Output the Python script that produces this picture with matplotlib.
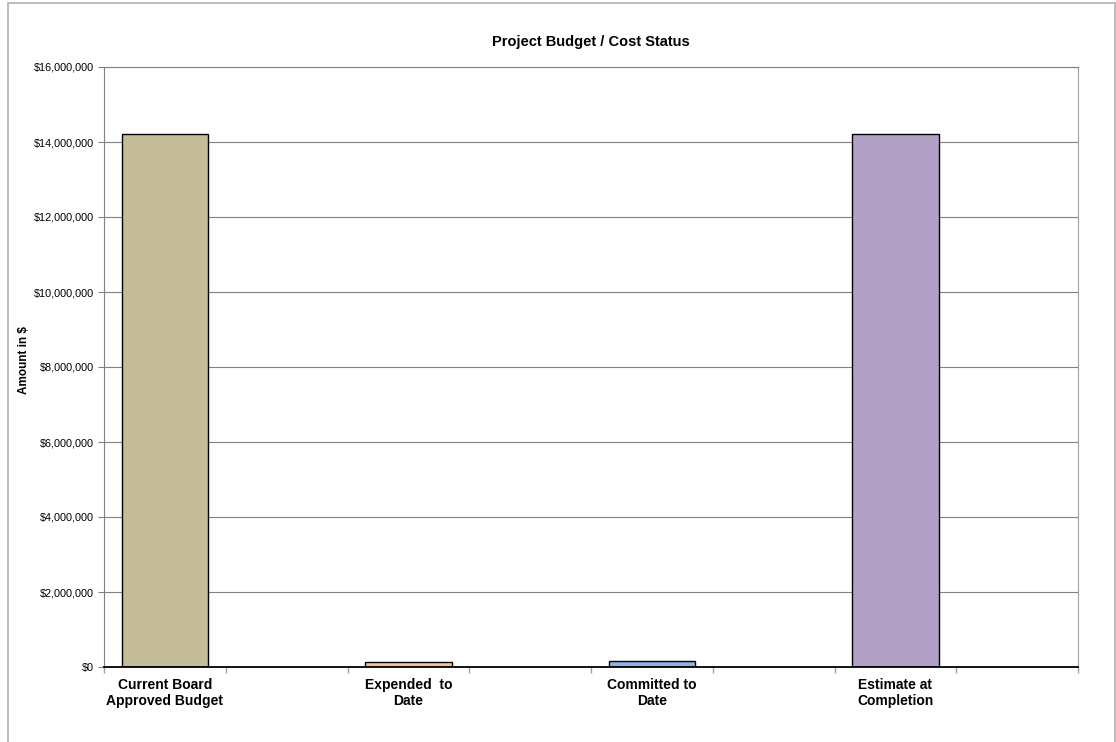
import matplotlib.pyplot as plt
from matplotlib.patches import Rectangle
from matplotlib.ticker import FuncFormatter
import numpy as np

# chart data
categories = ['Current Board\nApproved Budget', 'Expended  to\nDate',
              'Committed to\nDate', 'Estimate at\nCompletion']
amounts = [14210000, 140000, 165000, 14210000]
colors = ['#C4BD97', '#FAC090', '#8DB3E2', '#B2A1C7']
slot_index = [0, 2, 4, 6]   # bars sit in every other category slot
n_slots = 8

plt.rcParams['font.family'] = ['Liberation Sans', 'DejaVu Sans']

fig = plt.figure(figsize=(11.16, 7.42), dpi=100)
ax = fig.add_axes([104 / 1116, 75 / 742, 974 / 1116, 600 / 742])

# outer chart border
fig.patches.append(Rectangle((8 / 1116, -0.05), 1107 / 1116, 1.05 - 3 / 742,
                             transform=fig.transFigure, fill=False,
                             edgecolor='#b0b0b0', linewidth=1.2))

ax.bar(slot_index, amounts, width=0.71, color=colors,
       edgecolor='black', linewidth=1.0, zorder=3)

ax.set_xlim(-0.5, n_slots - 0.5)
ax.set_ylim(0, 16000000)
ax.set_yticks(np.arange(0, 16000001, 2000000))
ax.yaxis.set_major_formatter(FuncFormatter(lambda v, p: '${:,.0f}'.format(v)))
ax.grid(axis='y', color='#808080', linewidth=0.8, zorder=0)

ax.set_xticks(np.arange(-0.5, n_slots, 1))
ax.set_xticklabels([])
ax.set_xticks(slot_index, minor=True)
ax.set_xticklabels(categories, minor=True, fontsize=10, fontweight='bold',
                   linespacing=1.2)
ax.tick_params(axis='x', which='minor', length=0, pad=8)
ax.tick_params(axis='x', which='major', length=4, color='#a0a0a0', width=1)
ax.tick_params(axis='y', length=4, color='#808080', labelsize=7.8, pad=3)

for side in ['left', 'top']:
    ax.spines[side].set_color('#808080')
ax.spines['right'].set_color('#a0a0a0')
ax.spines['bottom'].set_color('black')
ax.spines['bottom'].set_linewidth(1.3)
ax.spines['bottom'].set_zorder(4)

ax.set_ylabel('Amount in $', fontsize=8.5, fontweight='bold')
ax.yaxis.set_label_coords(-74 / 974, 0.512)
ax.set_title('Project Budget / Cost Status', fontsize=10.5, fontweight='bold', pad=15)

fig.savefig('out.png', dpi=100)
